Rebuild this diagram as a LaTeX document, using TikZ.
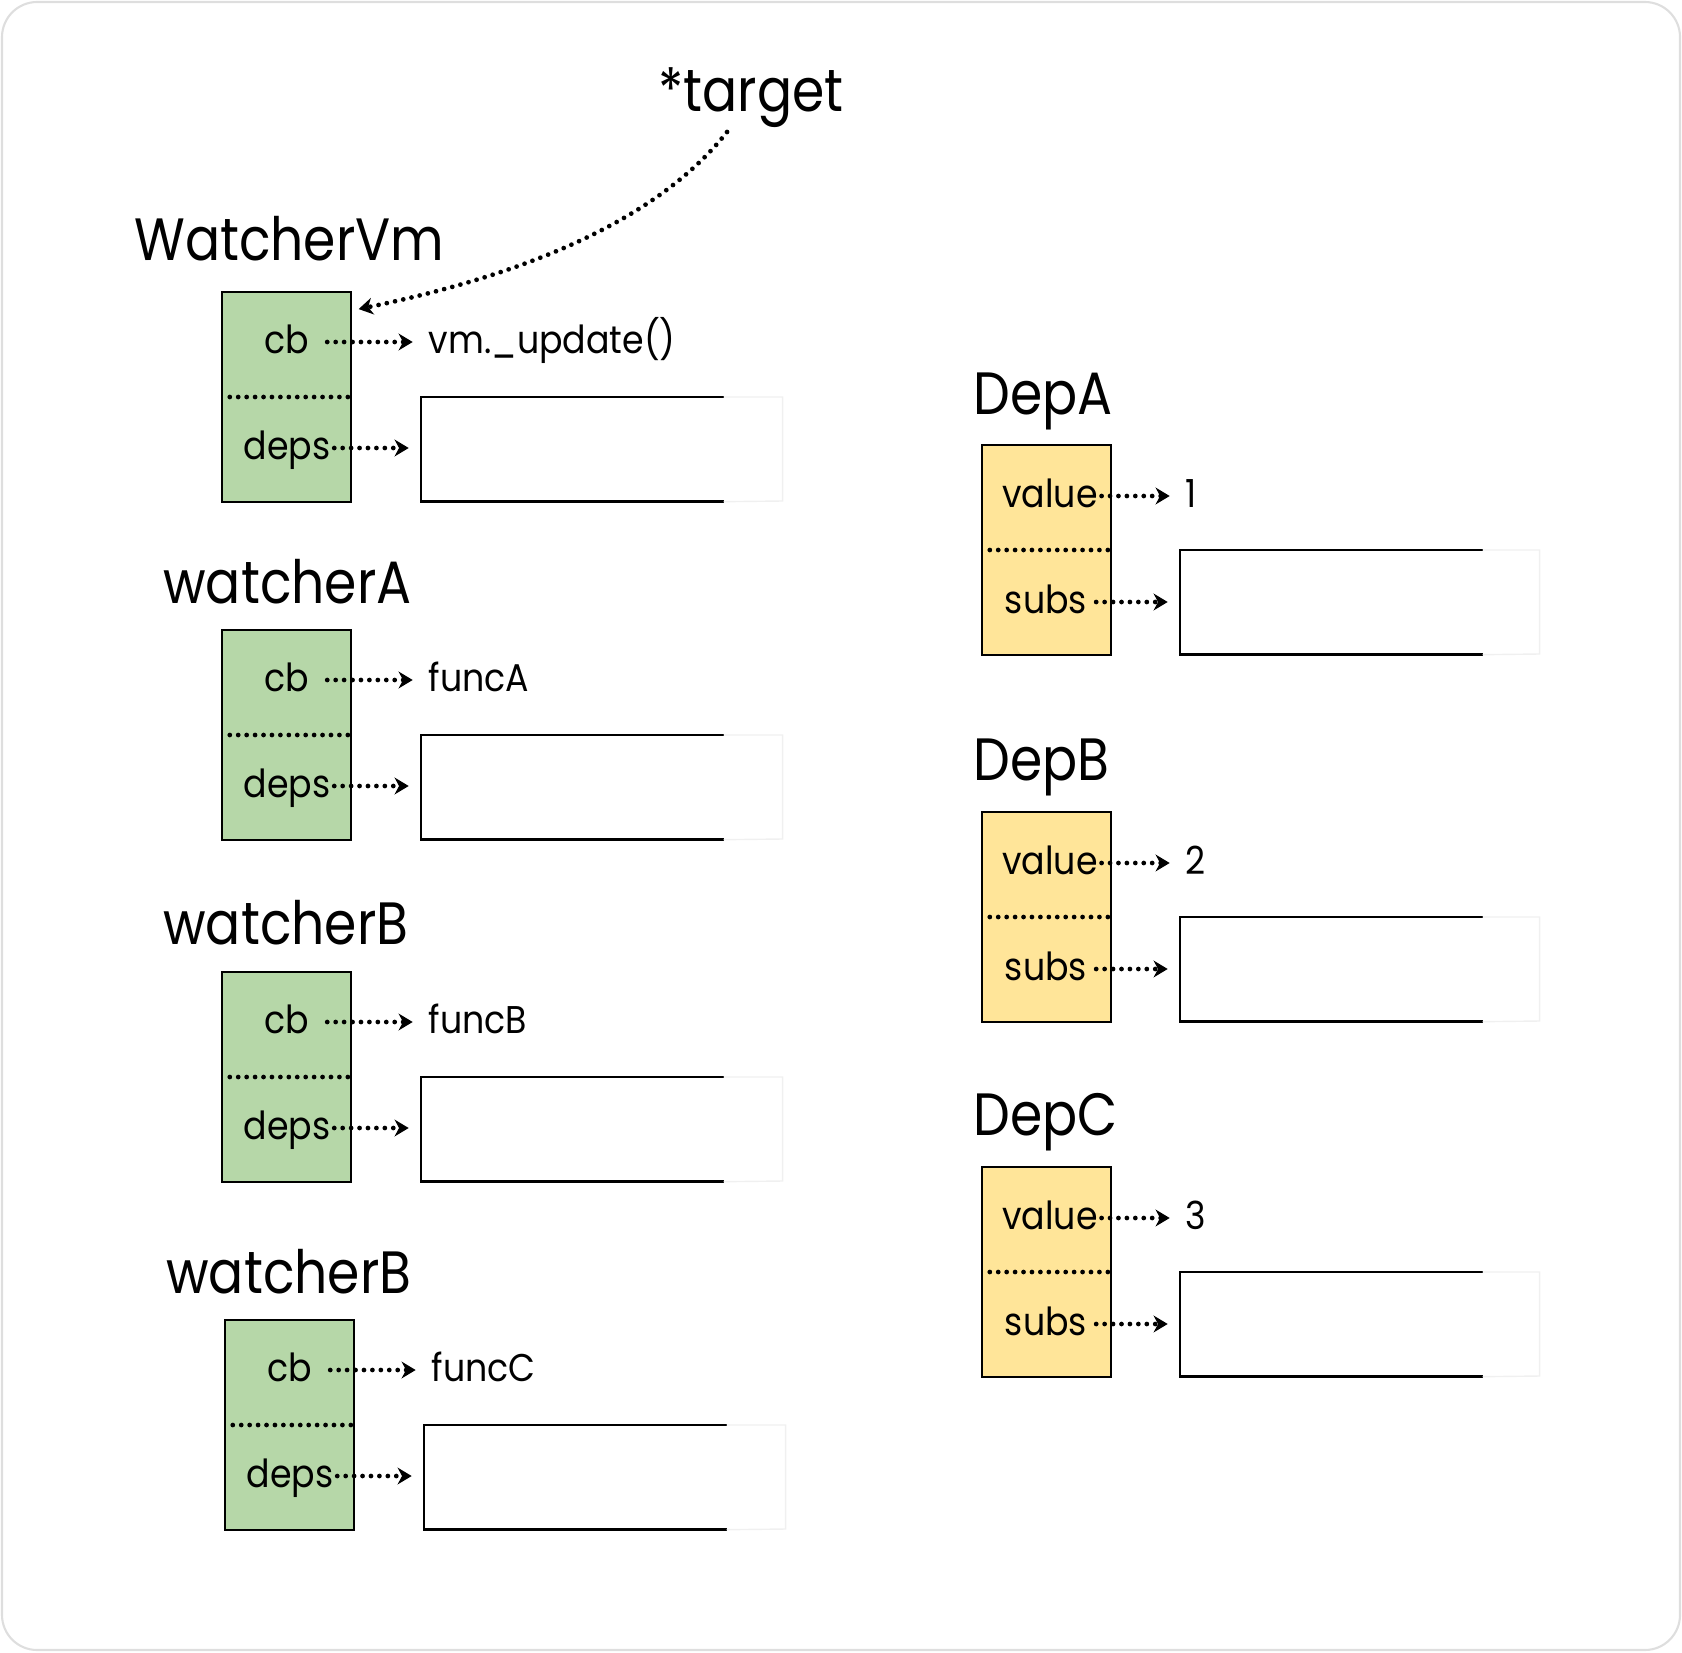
\documentclass[tikz,border=0pt]{standalone}
\usepackage{fontspec}
\setmainfont[FakeStretch=0.9]{Poppins}
\newfontfamily\headfont[FakeStretch=0.87]{Poppins}
\usepackage{tikz}
\usetikzlibrary{positioning,calc}
\usetikzlibrary{arrows.meta}
\definecolor{CbGreen}{RGB}{182,215,168}
\definecolor{DepYellow}{RGB}{255,229,153}
\definecolor{FrameGray}{RGB}{222,222,222}
\tikzset{
  wbox/.style={draw=black,fill=CbGreen,line width=1.4pt,minimum width=2.58cm,minimum height=4.2cm,inner sep=0pt},
  dbox/.style={wbox,fill=DepYellow},
  arr/.style={minimum width=6.04cm,minimum height=2.08cm,inner sep=0pt},
  outline/.style={draw=black,line width=1.4pt},
  fade/.style={draw=black!6,line width=0.8pt},
  dots/.style={line width=2.7pt,dash pattern=on 0pt off 4.8pt,line cap=round},
  ptr/.style={dots,-{Stealth[length=8pt,width=9.5pt,inset=2.5pt]},shorten >=7pt},
}
\tikzset{title/.style={font=\headfont\fontsize{34}{40}\selectfont,anchor=base west,inner sep=0pt}, lab/.style={font=\fontsize{22}{26}\selectfont,inner sep=2pt,text height=1.28em,text depth=0em}}

\begin{document}
\begin{tikzpicture}[x=0.02cm,y=-0.02cm]
\useasboundingbox (0,0) rectangle (1682,1652);
\draw[FrameGray,line width=1.2pt,rounded corners=20] (2,2) rectangle (1680,1650);

\node[title] (target) at (658,112) {*target};
\coordinate (tgtfoot) at (727,132);

\node[title] (tvm) at (134,261) {WatcherVm};
\node[wbox] (wvm) at (286.5,397) {};
\draw[dots] ($(wvm.west)+(9,0)$) -- (wvm.east);
\node[lab] (cbvm) at (287,342) {cb};
\node[lab] (depsvm) at (287,448) {deps};
\node[lab,anchor=west] (fnvm) at (425,342) {vm.\_update()};
\node[arr,anchor=north west] (arrvm) at (421,397) {};
\draw[outline] (arrvm.north east) -- (arrvm.north west) -- (arrvm.south west) -- (arrvm.south east);
\draw[fade] (arrvm.north east) -- ++(59,0) -- ++(0,104) -- (arrvm.south east);
\draw[ptr,shorten <=8pt] (cbvm) -- (fnvm);
\draw[ptr] (depsvm) -- (depsvm -| arrvm.west);
\coordinate (cbin) at ($(wvm.north east)+(3,19)$);
\draw[ptr,shorten >=2pt] (tgtfoot) .. controls (650,230) and (500,280) .. (cbin);

\node[title] (ta) at (163,603) {watcherA};
\node[wbox] (wa) at (286.5,735) {};
\draw[dots] ($(wa.west)+(9,0)$) -- (wa.east);
\node[lab] (cba) at (287,680) {cb};
\node[lab] (depsa) at (287,786) {deps};
\node[lab,anchor=west] (fna) at (425,680) {funcA};
\node[arr,anchor=north west] (arra) at (421,735) {};
\draw[outline] (arra.north east) -- (arra.north west) -- (arra.south west) -- (arra.south east);
\draw[fade] (arra.north east) -- ++(59,0) -- ++(0,104) -- (arra.south east);
\draw[ptr,shorten <=8pt] (cba) -- (fna);
\draw[ptr] (depsa) -- (depsa -| arra.west);

\node[title] (tb) at (163,944) {watcherB};
\node[wbox] (wb) at (286.5,1077) {};
\draw[dots] ($(wb.west)+(9,0)$) -- (wb.east);
\node[lab] (cbb) at (287,1022) {cb};
\node[lab] (depsb) at (287,1128) {deps};
\node[lab,anchor=west] (fnb) at (425,1022) {funcB};
\node[arr,anchor=north west] (arrb) at (421,1077) {};
\draw[outline] (arrb.north east) -- (arrb.north west) -- (arrb.south west) -- (arrb.south east);
\draw[fade] (arrb.north east) -- ++(59,0) -- ++(0,104) -- (arrb.south east);
\draw[ptr,shorten <=8pt] (cbb) -- (fnb);
\draw[ptr] (depsb) -- (depsb -| arrb.west);

\node[title] (tc) at (166,1293) {watcherB};
\node[wbox] (wc) at (289.5,1425) {};
\draw[dots] ($(wc.west)+(9,0)$) -- (wc.east);
\node[lab] (cbc) at (290,1370) {cb};
\node[lab] (depsc) at (290,1476) {deps};
\node[lab,anchor=west] (fnc) at (428,1370) {funcC};
\node[arr,anchor=north west] (arrc) at (424,1425) {};
\draw[outline] (arrc.north east) -- (arrc.north west) -- (arrc.south west) -- (arrc.south east);
\draw[fade] (arrc.north east) -- ++(59,0) -- ++(0,104) -- (arrc.south east);
\draw[ptr,shorten <=8pt] (cbc) -- (fnc);
\draw[ptr] (depsc) -- (depsc -| arrc.west);

\node[title] (tda) at (973,414) {DepA};
\node[dbox] (da) at (1046.5,550) {};
\draw[dots] ($(da.west)+(9,0)$) -- (da.east);
\node[lab] (vala) at (1050,496) {value};
\node[lab] (subsa) at (1046,602) {subs};
\node[lab,anchor=west] (numa) at (1182,496) {1};
\node[arr,anchor=north west] (arrda) at (1180,550) {};
\draw[outline] (arrda.north east) -- (arrda.north west) -- (arrda.south west) -- (arrda.south east);
\draw[fade] (arrda.north east) -- ++(57,0) -- ++(0,104) -- (arrda.south east);
\draw[ptr] (vala) -- (numa);
\draw[ptr,shorten <=3pt] (subsa) -- (subsa -| arrda.west);

\node[title] (tdb) at (973,780) {DepB};
\node[dbox] (db) at (1046.5,917) {};
\draw[dots] ($(db.west)+(9,0)$) -- (db.east);
\node[lab] (valb) at (1050,863) {value};
\node[lab] (subsb) at (1046,969) {subs};
\node[lab,anchor=west] (numb) at (1182,863) {2};
\node[arr,anchor=north west] (arrdb) at (1180,917) {};
\draw[outline] (arrdb.north east) -- (arrdb.north west) -- (arrdb.south west) -- (arrdb.south east);
\draw[fade] (arrdb.north east) -- ++(57,0) -- ++(0,104) -- (arrdb.south east);
\draw[ptr] (valb) -- (numb);
\draw[ptr,shorten <=3pt] (subsb) -- (subsb -| arrdb.west);

\node[title] (tdc) at (973,1135) {DepC};
\node[dbox] (dc) at (1046.5,1272) {};
\draw[dots] ($(dc.west)+(9,0)$) -- (dc.east);
\node[lab] (valc) at (1050,1218) {value};
\node[lab] (subsc) at (1046,1324) {subs};
\node[lab,anchor=west] (numc) at (1182,1218) {3};
\node[arr,anchor=north west] (arrdc) at (1180,1272) {};
\draw[outline] (arrdc.north east) -- (arrdc.north west) -- (arrdc.south west) -- (arrdc.south east);
\draw[fade] (arrdc.north east) -- ++(57,0) -- ++(0,104) -- (arrdc.south east);
\draw[ptr] (valc) -- (numc);
\draw[ptr,shorten <=3pt] (subsc) -- (subsc -| arrdc.west);
\end{tikzpicture}
\end{document}
